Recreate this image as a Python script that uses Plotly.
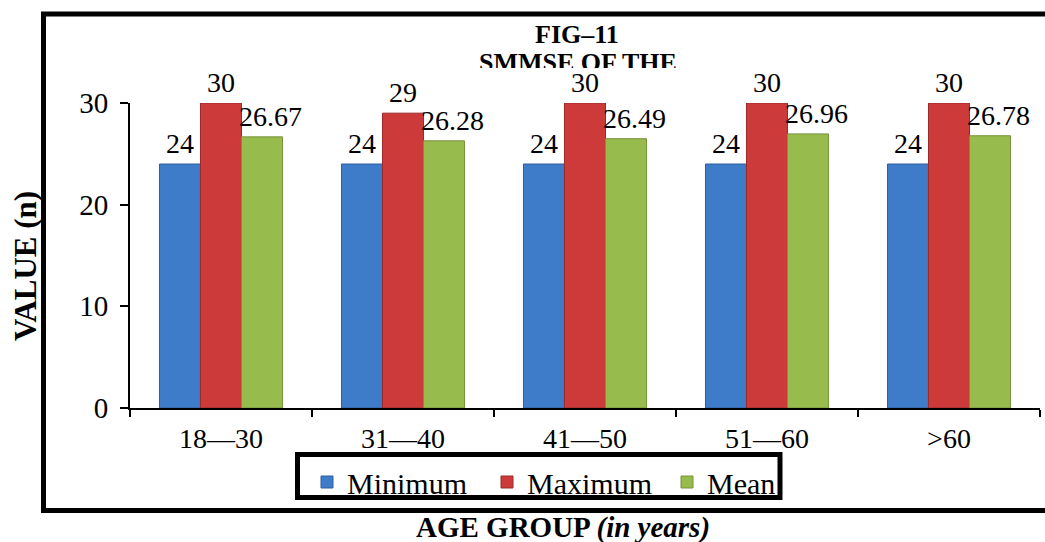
import plotly.graph_objects as go

categories = ["18—30", "31—40", "41—50", "51—60", ">60"]
minimum = [24, 24, 24, 24, 24]
maximum = [30, 29, 30, 30, 30]
mean = [26.67, 26.28, 26.49, 26.96, 26.78]
min_labels = ["24", "24", "24", "24", "24"]
max_labels = ["30", "29", "30", "30", "30"]
mean_labels = ["26.67", "26.28", "26.49", "26.96", "26.78"]

FONT = "Liberation Serif"

W, H = 1045, 542
L, R, T, B = 130, 5, 103, 134
PW, PH = W - L - R, H - T - B
BARGAP = 0.324
BARW = PW / len(categories) * (1 - BARGAP) / 3


def px(x):
    return (x - L) / PW


def py(y):
    return (H - B - y) / PH


fig = go.Figure()
series = [
    ("Minimum", minimum, min_labels, "#3E7BC9", "#2E5E9C", -BARW),
    ("Maximum", maximum, max_labels, "#CD3A3A", "#9C2A2A", 0),
    ("Mean", mean, mean_labels, "#98BB4D", "#76923A", BARW + 8),
]
for name, vals, labels, color, edge, shift in series:
    fig.add_trace(go.Bar(
        name=name, x=categories, y=vals,
        marker=dict(color=color, line=dict(color=edge, width=1)),
    ))
    for c, v, t in zip(categories, vals, labels):
        fig.add_annotation(x=c, y=v, xref="x", yref="y", text=t, showarrow=False,
                           xanchor="center", yanchor="bottom", xshift=shift, yshift=3,
                           font=dict(family=FONT, size=28, color="black"))

fig.update_layout(
    width=W, height=H,
    margin=dict(l=L, r=R, t=T, b=B, autoexpand=False),
    paper_bgcolor="white", plot_bgcolor="white",
    barmode="group", bargap=BARGAP, bargroupgap=0,
    font=dict(family=FONT, color="black"),
    showlegend=True,
    legend=dict(
        orientation="h", x=px(307), xanchor="left", y=py(456), yanchor="top",
        borderwidth=0, bgcolor="rgba(0,0,0,0)",
        font=dict(family=FONT, size=30, color="black"),
        itemwidth=30, tracegroupgap=0,
        entrywidth=135, entrywidthmode="pixels",
        maxheight=300,
    ),
    xaxis=dict(
        showline=True, linecolor="black", linewidth=2,
        ticks="outside", tickson="boundaries", ticklen=7, tickwidth=2, tickcolor="black",
        tickfont=dict(family=FONT, size=28, color="black"),
        ticklabelstandoff=4,
        showgrid=False,
    ),
    yaxis=dict(
        range=[0, 30], tickvals=[0, 10, 20, 30],
        showline=True, linecolor="black", linewidth=2,
        ticks="outside", ticklen=8, tickwidth=2, tickcolor="black",
        tickfont=dict(family=FONT, size=29, color="black"),
        ticklabelstandoff=6,
        showgrid=False, zeroline=False,
    ),
)

# outer frame
fig.add_shape(type="rect", xref="paper", yref="paper",
              x0=px(43.5), x1=px(1070), y0=py(510.5), y1=py(14),
              line=dict(color="black", width=5), layer="below")
# legend frame
fig.add_shape(type="rect", xref="paper", yref="paper",
              x0=px(297.5), x1=px(780), y0=py(497.5), y1=py(454.5),
              line=dict(color="black", width=5), fillcolor="white", layer="below")

# title (second line clipped as in reference)
fig.add_annotation(xref="paper", yref="paper", x=px(577), y=py(18), xanchor="center", yanchor="top",
                   text="<b>FIG–11</b>", showarrow=False,
                   font=dict(family=FONT, size=26, color="black"))
fig.add_annotation(xref="paper", yref="paper", x=px(578), y=py(46), xanchor="center", yanchor="top",
                   text="<b>SMMSE OF THE</b>", showarrow=False, height=20, valign="top",
                   font=dict(family=FONT, size=26, color="black"))

fig.add_annotation(xref="paper", yref="paper", x=px(25), y=py(266), xanchor="center", yanchor="middle",
                   text="<b>VALUE (n)</b>", textangle=-90, showarrow=False,
                   font=dict(family=FONT, size=31, color="black"))

fig.add_annotation(xref="paper", yref="paper", x=px(563), y=py(527), xanchor="center", yanchor="middle",
                   text="<b>AGE GROUP <i>(in years)</i></b>", showarrow=False,
                   font=dict(family=FONT, size=29, color="black"))

fig.write_html("out.html", config={"displayModeBar": False},
               post_script="document.body.style.margin='0';")
